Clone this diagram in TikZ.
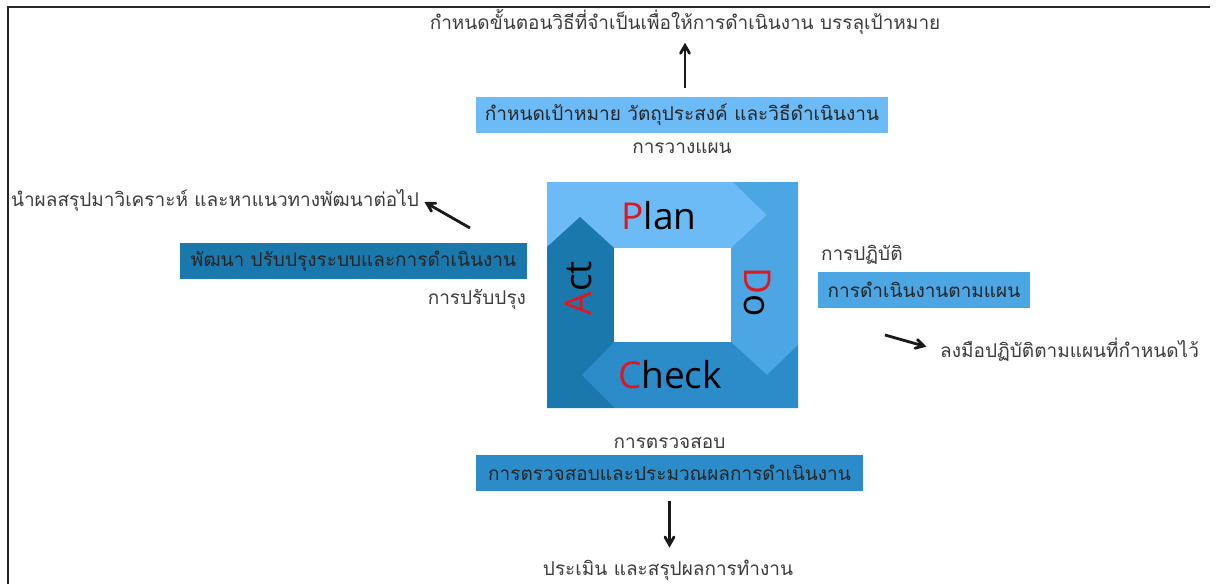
\documentclass[tikz,border=0pt]{standalone}
\usepackage{fontspec}
\newfontfamily\thaifont[Script=Thai]{Loma}
\newfontfamily\pdcafont{Open Sans}
\usetikzlibrary{arrows,positioning}

\definecolor{planblue}{RGB}{108,186,246}
\definecolor{doblue}{RGB}{76,166,228}
\definecolor{checkblue}{RGB}{44,140,202}
\definecolor{actblue}{RGB}{26,120,172}
\definecolor{thaigray}{RGB}{60,60,60}
\definecolor{pdcared}{RGB}{222,24,32}

\tikzset{
  stepbox/.style={fill=#1, inner xsep=4pt, minimum height=36pt,
    font=\thaifont\fontsize{19}{21}\selectfont, text=black!85},
  steplabel/.style={font=\thaifont\fontsize{19}{21}\selectfont, text=thaigray, inner sep=1pt},
  goal/.style={font=\thaifont\fontsize{19}{21}\selectfont, text=thaigray, inner sep=2pt},
  pdca/.style={font=\pdcafont\fontsize{37}{39}\selectfont, text=black},
  hand/.style={->, >=angle 60, line width=2.8pt, black!90},
}

\begin{document}
\begin{tikzpicture}[x=1pt,y=-1pt]
  \useasboundingbox (0,0) rectangle (1219,584);

  % frame
  \draw[line width=2pt, black!85] (8,584) -- (8,7) -- (1210,7);

  % PDCA square
  \fill[doblue] (547,182) rectangle (798,408);
  \fill[planblue] (547,182) -- (733,182) -- (767,215) -- (732,248) -- (614,248)
    -- (580,217) -- (547,247) -- cycle;
  \fill[doblue] (733,182) -- (798,182) -- (798,345) -- (767,375) -- (731,342)
    -- (731,248) -- (767,215) -- cycle;
  \fill[checkblue] (731,342) -- (767,375) -- (798,345) -- (798,408) -- (615,408)
    -- (582,375) -- (614,342) -- cycle;
  \fill[actblue] (614,342) -- (582,375) -- (615,408) -- (547,408) -- (547,247)
    -- (580,217) -- (614,248) -- cycle;
  \fill[white] (614,248) rectangle (731,342);

  \node[pdca] (plan) at (659,216) {\textcolor{pdcared}{P}lan};
  \node[pdca, rotate=-90] (do) at (758,292) {\textcolor{pdcared}{D}o};
  \node[pdca] (check) at (670,375) {\textcolor{pdcared}{C}heck};
  \node[pdca, rotate=90] (act) at (578,288) {\textcolor{pdcared}{A}ct};

  % plan
  \node[stepbox=planblue, minimum width=412pt] (planbox) at (682,115)
    {กำหนดเป้าหมาย วัตถุประสงค์ และวิธีดำเนินงาน};
  \node[steplabel, below=8pt of planbox] (planlabel) {การวางแผน};
  \node[goal] (plangoal) at (685,22)
    {กำหนดขั้นตอนวิธีที่จำเป็นเพื่อให้การดำเนินงาน บรรลุเป้าหมาย};
  \draw[hand, shorten <=9pt, shorten >=6pt] (planbox.north -| plangoal) -- (plangoal.south);

  % do
  \node[stepbox=doblue, minimum width=212pt] (dobox) at (924,289.5)
    {การดำเนินงานตามแผน};
  \node[steplabel, anchor=south west] (dolabel) at ([xshift=2pt,yshift=6pt]dobox.north west)
    {การปฏิบัติ};
  \node[goal, anchor=west] (dogoal) at (938,350) {ลงมือปฏิบัติตามแผนที่กำหนดไว้};
  \coordinate (dotail) at (885,335);
  \draw[hand, shorten >=12pt] (dotail) -- (dogoal.west);

  % check
  \node[stepbox=checkblue, minimum width=387pt] (checkbox) at (669.5,473)
    {การตรวจสอบและประมวณผลการดำเนินงาน};
  \node[steplabel, above=5pt of checkbox] (checklabel) {การตรวจสอบ};
  \node[goal] (checkgoal) at (668,570) {ประเมิน และสรุปผลการทำงาน};
  \draw[hand, shorten <=10pt, shorten >=10pt] (checkbox.south) -- (checkbox.south |- checkgoal.north);

  % act
  \node[stepbox=actblue, minimum width=347pt] (actbox) at (353.5,261)
    {พัฒนา ปรับปรุงระบบและการดำเนินงาน};
  \node[steplabel, anchor=north east] (actlabel) at ([yshift=-9pt]actbox.south east)
    {การปรับปรุง};
  \node[goal, anchor=east] (actgoal) at (421,200)
    {นำผลสรุปมาวิเคราะห์ และหาแนวทางพัฒนาต่อไป};
  \coordinate (acttail) at (470,228);
  \draw[hand, shorten >=4pt] (acttail) -- (actgoal.east);
\end{tikzpicture}
\end{document}
